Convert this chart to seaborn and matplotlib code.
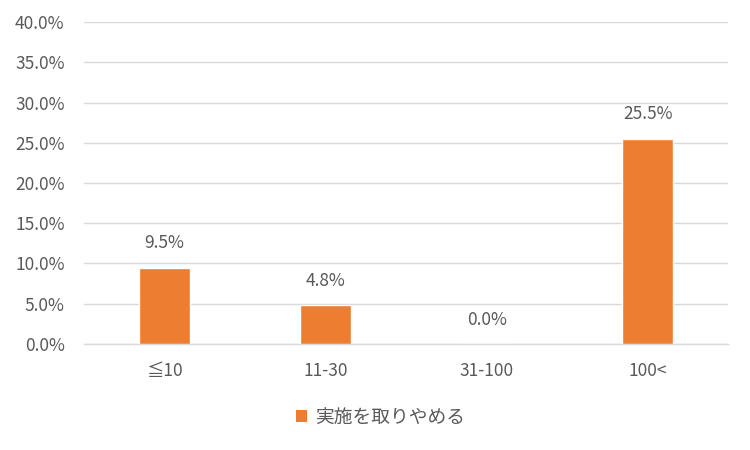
import matplotlib
matplotlib.use("Agg")
import matplotlib.pyplot as plt
import seaborn as sns
import pandas as pd
from matplotlib.patches import Patch

categories = ["≦10", "11-30", "31-100", "100<"]
values = [9.5, 4.8, 0.0, 25.5]
series_name = "実施を取りやめる"
yticks = [0, 5, 10, 15, 20, 25, 30, 35, 40]

sns.set_theme(style="white")
plt.rcParams['font.family'] = ['Noto Sans CJK JP', 'DejaVu Sans']

df = pd.DataFrame({"cat": categories, "val": values})
color = "#ED7D31"
txt = "#595959"

fig = plt.figure(figsize=(7.5, 4.5), dpi=100)
ax = fig.add_axes([0.112, 0.2356, 0.859, 0.7154])
sns.barplot(data=df, x="cat", y="val", color=color, width=0.32, saturation=1, ax=ax, zorder=3)
ax.set_xlim(-0.5, 3.5)
ax.set_ylim(0, 40)
ax.set_yticks(yticks)
ax.set_yticklabels([f"{t:.1f}%" for t in yticks])
ax.yaxis.grid(True, color="#D9D9D9", linewidth=1, zorder=0)
ax.set_axisbelow(True)
for s in ["left", "right", "top"]:
    ax.spines[s].set_visible(False)
ax.spines["bottom"].set_color("#D9D9D9")
ax.spines["bottom"].set_linewidth(1)
ax.tick_params(axis="both", length=0, labelsize=12.5, labelcolor=txt)
ax.tick_params(axis="x", pad=13)
ax.tick_params(axis="y", pad=14)
ax.set_xlabel("")
ax.set_ylabel("")
for i, v in enumerate(values):
    ax.annotate(f"{v:.1f}%", (i, v), xytext=(0, 11), textcoords="offset points",
                ha="center", va="bottom", fontsize=12.5, color=txt)

fig.legend(handles=[Patch(facecolor=color, edgecolor="none")], labels=[series_name],
           loc="center", bbox_to_anchor=(0.507, 0.073), frameon=False,
           fontsize=13.5, labelcolor=txt, handlelength=0.6, handleheight=0.6, handletextpad=0.4)
fig.savefig("out.png", dpi=100)
